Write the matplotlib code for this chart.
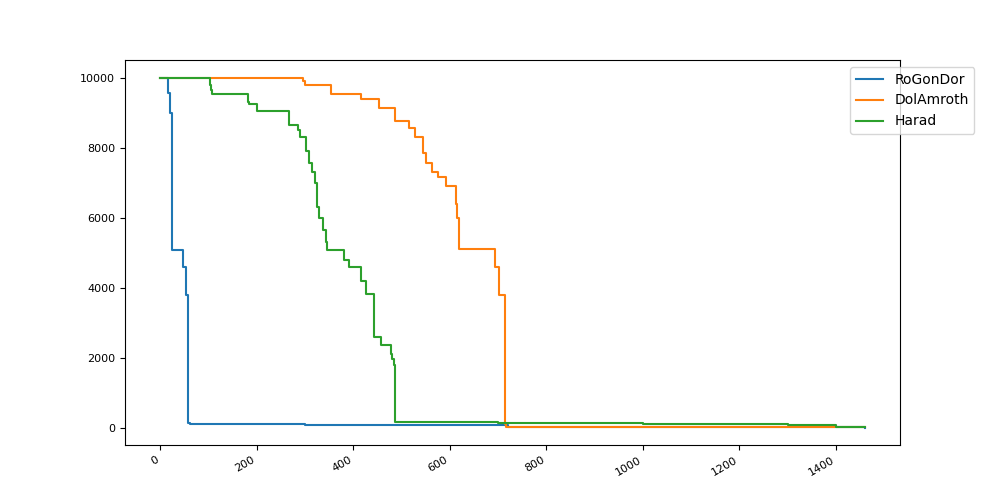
import matplotlib
matplotlib.use('Agg')
import matplotlib.pyplot as plt

# step breakpoints (x, value)
rogondor_x = [0, 16, 20, 25, 47, 54, 58, 62, 100, 300, 600, 720, 1000, 1300, 1400, 1460]
rogondor_y = [10000, 9550, 9000, 5080, 4600, 3800, 130, 110, 95, 90, 80, 30, 20, 15, 10, 5]

dolamroth_x = [0, 295, 300, 354, 416, 453, 487, 515, 528, 545, 550, 563, 575, 592, 612, 616, 620, 693, 703, 715, 716, 740, 1000, 1460]
dolamroth_y = [10000, 9900, 9780, 9530, 9380, 9130, 8750, 8550, 8300, 7850, 7550, 7300, 7150, 6900, 6400, 6000, 5100, 4580, 3800, 100, 30, 10, 10, 10]

harad_x = [0, 103, 105, 107, 181, 184, 200, 266, 285, 289, 303, 309, 315, 320, 325, 330, 338, 343, 346, 381, 392, 416, 427, 443, 444, 458, 478, 481, 484, 486, 700, 1000, 1300, 1400, 1460]
harad_y = [10000, 9800, 9650, 9530, 9300, 9250, 9050, 8650, 8500, 8300, 7900, 7550, 7300, 7000, 6300, 6000, 5650, 5300, 5080, 4800, 4580, 4200, 3830, 3500, 2600, 2350, 2100, 1950, 1800, 150, 130, 110, 90, 20, 15]

fig, ax = plt.subplots(figsize=(10, 5), dpi=100)
ax.plot(rogondor_x, rogondor_y, drawstyle='steps-post', label='RoGonDor')
ax.plot(dolamroth_x, dolamroth_y, drawstyle='steps-post', label='DolAmroth')
ax.plot(harad_x, harad_y, drawstyle='steps-post', label='Harad')
ax.tick_params(labelsize=8)
for lbl in ax.get_xticklabels():
    lbl.set_rotation(30)
    lbl.set_ha('right')
ax.legend(loc='upper right', bbox_to_anchor=(1.105, 1.0))
fig.savefig('out.png')
